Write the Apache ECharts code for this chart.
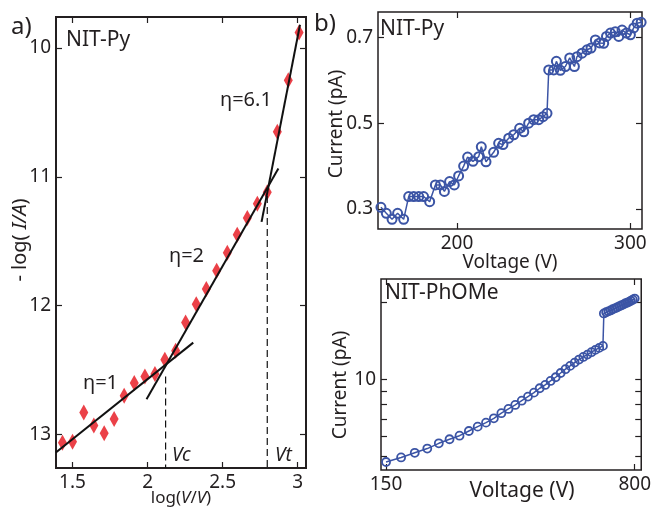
<!DOCTYPE html>
<html>
<head>
<meta charset="utf-8">
<script src="https://cdn.jsdelivr.net/npm/echarts@6/dist/echarts.min.js"></script>
<style>
html,body{margin:0;padding:0;background:#fff;}
#chart{width:654px;height:508px;}
</style>
</head>
<body>
<div id="chart"></div>
<script>
// panel a: -log(I) vs log(V), red diamonds
var aLogV = [1.433, 1.5, 1.575, 1.642, 1.711, 1.777, 1.844, 1.911, 1.982, 2.049, 2.115, 2.187,
  2.253, 2.324, 2.391, 2.46, 2.531, 2.597, 2.664, 2.731, 2.797, 2.864, 2.937, 3.009];
var aLogI = [13.065, 13.057, 12.83, 12.93, 12.99, 12.88, 12.70, 12.60, 12.55, 12.53, 12.42, 12.35,
  12.13, 11.99, 11.87, 11.73, 11.59, 11.45, 11.32, 11.21, 11.12, 10.65, 10.25, 9.88];
// fit lines (end points) and threshold voltages
var fit1 = [[1.389, 13.14], [2.304, 12.287]];
var fit2 = [[1.993, 12.726], [2.871, 10.935]];
var fit3 = [[2.759, 11.35], [3.015, 9.82]];
var vcLine = [[2.12, 12.55], [2.12, 13.26]];
var vtLine = [[2.797, 11.15], [2.797, 13.26]];
var aXTicks = [1.5, 2, 2.5, 3];
var aYTicks = [10, 11, 12, 13];

// panel b top: NIT-Py current vs voltage
var topV = [156.1, 159.2, 162.5, 165.7, 169.2, 172.1, 175.0, 177.9, 180.7, 184.2, 187.5, 190.4,
  192.7, 195.7, 198.4, 200.9, 203.8, 206.1, 209.2, 212.5, 214.0, 216.7, 221.1, 224.0, 226.5,
  229.8, 232.7, 236.1, 238.5, 241.3, 244.2, 247.1, 249.6, 251.9, 252.9, 255.8, 257.3, 259.6,
  262.5, 265.0, 267.7, 269.2, 272.1, 275.0, 277.3, 279.8, 282.3, 284.6, 286.2, 288.5, 291.3,
  293.3, 295.2, 297.7, 300.0, 301.9, 303.9, 306.2];
var topI = [0.304, 0.290, 0.276, 0.290, 0.276, 0.329, 0.329, 0.329, 0.329, 0.317, 0.356, 0.356,
  0.341, 0.364, 0.356, 0.377, 0.400, 0.421, 0.411, 0.422, 0.445, 0.410, 0.432, 0.453, 0.450,
  0.465, 0.473, 0.488, 0.480, 0.500, 0.508, 0.508, 0.515, 0.523, 0.624, 0.624, 0.644, 0.623,
  0.632, 0.652, 0.632, 0.655, 0.663, 0.671, 0.675, 0.694, 0.687, 0.686, 0.702, 0.710, 0.713,
  0.702, 0.717, 0.710, 0.706, 0.722, 0.733, 0.735];
var topXTicks = [200, 300];
var topYTicks = [0.3, 0.5, 0.7];

// panel b bottom: NIT-PhOMe, log-log
var botV = [150, 166, 182, 198, 214, 230, 246, 262, 278, 294, 310, 326, 342, 358, 374, 390,
  406, 422, 438, 454, 470, 486, 502, 518, 534, 550, 566, 582, 598, 614, 630, 646,
  650, 660, 670, 680, 690, 700, 710, 720, 730, 740, 750, 760, 770, 780, 790, 800];
var botI = [4.74, 4.94, 5.15, 5.35, 5.61, 5.82, 6.01, 6.27, 6.52, 6.76, 7.03, 7.36, 7.65, 7.93,
  8.24, 8.55, 8.86, 9.22, 9.50, 9.85, 10.18, 10.58, 10.95, 11.28, 11.62, 11.94, 12.23, 12.49,
  12.76, 13.03, 13.27, 13.51,
  18.1, 18.3, 18.45, 18.6, 18.8, 18.95, 19.1, 19.3, 19.45, 19.6, 19.8, 19.95, 20.1, 20.3, 20.5, 20.7];
var botXTicks = [150, 800];
var botYTicks = [5, 6, 7, 8, 9, 10, 20];
var botYLabels = [10];

var FONT = 'Noto Sans';
var INK = '#231f20';
var BLUE = '#3b54a5';

function pairs(xs, ys) {
  return xs.map(function (x, i) { return [x, ys[i]]; });
}

function axis(grid, type, min, max, ticks, labels, extra) {
  var o = {
    gridIndex: grid, type: type, min: min, max: max,
    axisLine: { show: false },
    splitLine: { show: false },
    minorTick: { show: false },
    axisTick: { inside: true, length: 6, customValues: ticks, lineStyle: { color: INK, width: 1.2 } },
    axisLabel: labels ? { customValues: labels, fontSize: 19, fontFamily: FONT, color: INK, margin: 5 } : { show: false }
  };
  for (var k in extra) o[k] = extra[k];
  return o;
}

var myChart = echarts.init(document.getElementById('chart'));

function txt(x, y, s, size, opt) {
  opt = opt || {};
  return {
    type: 'text', x: x, y: y, rotation: opt.rot || 0,
    style: {
      text: s, fill: INK, fontSize: size, fontFamily: FONT,
      fontStyle: opt.italic ? 'italic' : 'normal',
      textAlign: opt.align || 'left', textVerticalAlign: 'middle',
      rich: opt.rich
    }
  };
}

var itRich17 = { i: { fontStyle: 'italic', fontSize: 17, fontFamily: FONT, fill: INK } };
var itRich20 = { i: { fontStyle: 'italic', fontSize: 20, fontFamily: FONT, fill: INK } };

option = {
  animation: false,
  backgroundColor: '#fff',
  grid: [
    { left: 56, top: 17, width: 250, height: 451, show: true, borderColor: INK, borderWidth: 2 },
    { left: 378, top: 12, width: 264, height: 217, show: true, borderColor: INK, borderWidth: 1.5 },
    { left: 381, top: 279, width: 261, height: 191, show: true, borderColor: INK, borderWidth: 1.5 }
  ],
  xAxis: [
    axis(0, 'value', 1.39, 3.055, aXTicks, aXTicks, { position: 'bottom' }),
    axis(0, 'value', 1.39, 3.055, aXTicks, null, { position: 'top' }),
    axis(1, 'value', 154.4, 306.7, topXTicks, topXTicks, { position: 'bottom' }),
    axis(1, 'value', 154.4, 306.7, topXTicks, null, { position: 'top' }),
    axis(2, 'log', 145, 836, botXTicks, botXTicks, { position: 'bottom' }),
    axis(2, 'log', 145, 836, botXTicks, null, { position: 'top' })
  ],
  yAxis: [
    axis(0, 'value', 9.76, 13.26, aYTicks, aYTicks, { position: 'left', inverse: true }),
    axis(0, 'value', 9.76, 13.26, aYTicks, null, { position: 'right', inverse: true }),
    axis(1, 'value', 0.2534, 0.759, topYTicks, topYTicks, { position: 'left' }),
    axis(1, 'value', 0.2534, 0.759, topYTicks, null, { position: 'right' }),
    axis(2, 'log', 4.41, 24.7, botYTicks, botYLabels, { position: 'left' }),
    axis(2, 'log', 4.41, 24.7, botYTicks, null, { position: 'right' })
  ],
  series: [
    {
      type: 'scatter', xAxisIndex: 0, yAxisIndex: 0, data: pairs(aLogV, aLogI),
      symbol: 'diamond', symbolSize: [9, 16], itemStyle: { color: '#e6121a' }, z: 2
    },
    { type: 'line', xAxisIndex: 0, yAxisIndex: 0, data: fit1, symbol: 'none', lineStyle: { color: '#111', width: 2 }, z: 3 },
    { type: 'line', xAxisIndex: 0, yAxisIndex: 0, data: fit2, symbol: 'none', lineStyle: { color: '#111', width: 2 }, z: 3 },
    { type: 'line', xAxisIndex: 0, yAxisIndex: 0, data: fit3, symbol: 'none', lineStyle: { color: '#111', width: 2 }, z: 3 },
    { type: 'line', xAxisIndex: 0, yAxisIndex: 0, data: vcLine, symbol: 'none', lineStyle: { color: '#111', width: 1.2, type: [7, 4] }, z: 3 },
    { type: 'line', xAxisIndex: 0, yAxisIndex: 0, data: vtLine, symbol: 'none', lineStyle: { color: '#111', width: 1.2, type: [7, 4] }, z: 3 },
    {
      type: 'line', xAxisIndex: 2, yAxisIndex: 2, data: pairs(topV, topI),
      symbol: 'circle', symbolSize: 9, showAllSymbol: true,
      lineStyle: { color: BLUE, width: 1.5 },
      itemStyle: { color: 'rgba(255,255,255,0)', borderColor: BLUE, borderWidth: 2 }
    },
    {
      type: 'line', xAxisIndex: 4, yAxisIndex: 4, data: pairs(botV, botI),
      symbol: 'circle', symbolSize: 8, showAllSymbol: true,
      lineStyle: { color: BLUE, width: 1.5 },
      itemStyle: { color: 'rgba(255,255,255,0)', borderColor: BLUE, borderWidth: 1.8 }
    }
  ],
  graphic: [
    txt(11, 27, 'a)', 24),
    txt(314, 24, 'b)', 24),
    txt(66, 40, 'NIT-Py', 21),
    txt(220, 100, 'η=6.1', 20),
    txt(169, 256, 'η=2', 20),
    txt(83, 383, 'η=1', 20),
    txt(172, 456, 'Vc', 19, { italic: true }),
    txt(275, 456, 'Vt', 19, { italic: true }),
    txt(181, 498, 'log({i|V}/{i|V})', 17, { align: 'center', rich: itRich17 }),
    txt(20, 240, '- log( {i|I/A})', 20, { align: 'center', rot: Math.PI / 2, rich: itRich20 }),
    txt(380, 29, 'NIT-Py', 21),
    txt(337, 124, 'Current (pA)', 19, { align: 'center', rot: Math.PI / 2 }),
    txt(510, 263, 'Voltage (V)', 19, { align: 'center' }),
    txt(385, 293, 'NIT-PhOMe', 21),
    txt(341, 385, 'Current (pA)', 19, { align: 'center', rot: Math.PI / 2 }),
    txt(522, 491, 'Voltage (V)', 21, { align: 'center' })
  ]
};

myChart.setOption(option);
</script>
</body>
</html>
